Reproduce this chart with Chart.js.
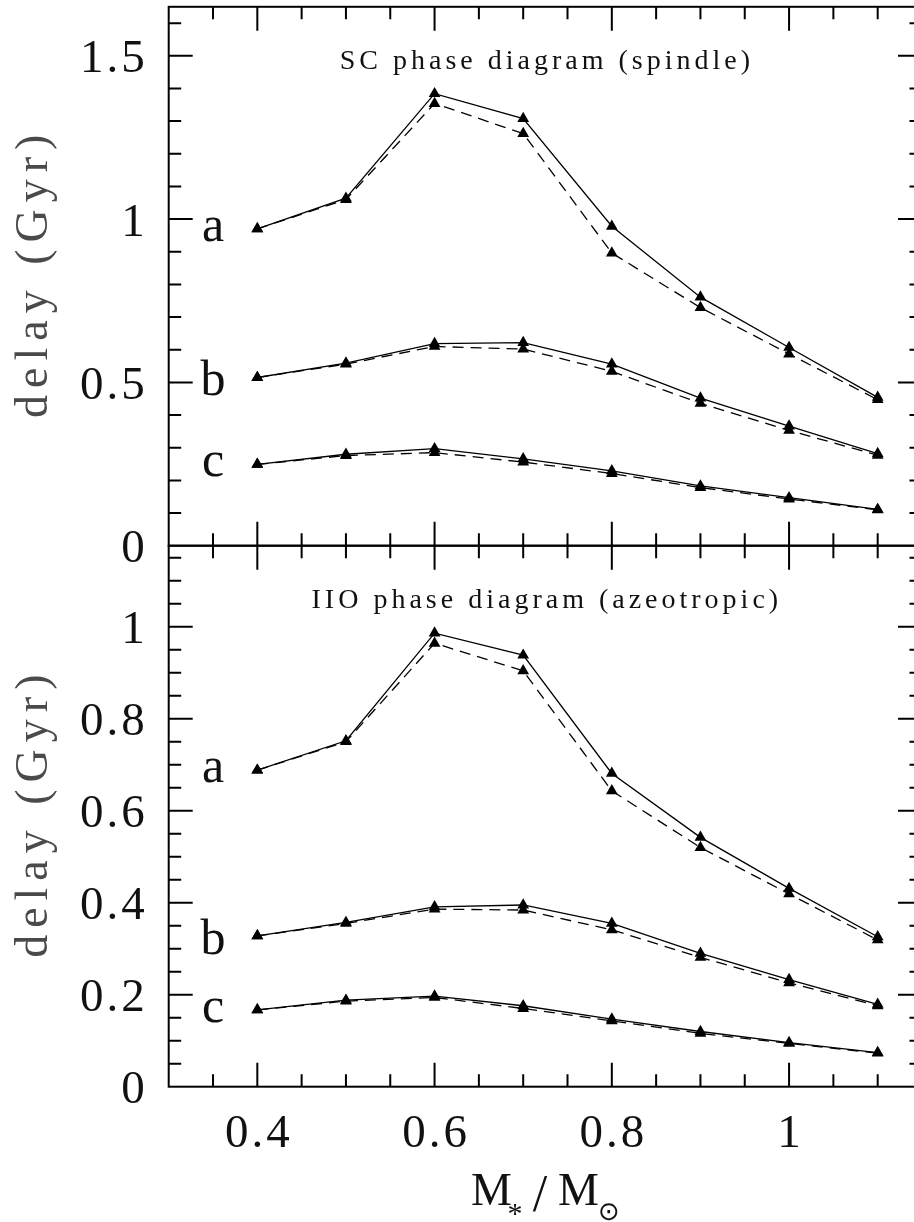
<!DOCTYPE html>
<html>
<head>
<meta charset="utf-8">
<script src="https://cdn.jsdelivr.net/npm/chart.js@4/dist/chart.umd.min.js"></script>
<style>
    html, body { margin: 0; padding: 0; background: #fff; overflow: hidden; }
    #wrap { position: relative; width: 914px; height: 1222px; overflow: hidden; }
    canvas { position: absolute; left: 0; top: 0; }
</style>
</head>
<body>
<div id="wrap">
    <canvas id="sc" width="930" height="1222"></canvas>
    <canvas id="iio" width="930" height="1222"></canvas>
</div>
<script>
const masses = [0.4, 0.5, 0.6, 0.7, 0.8, 0.9, 1.0, 1.1]

// SC phase diagram (spindle): solid and dashed runs for curves a, b, c
const scSolidA = [0.970, 1.064, 1.384, 1.308, 0.978, 0.761, 0.607, 0.454]
const scDashA = [0.970, 1.060, 1.354, 1.262, 0.896, 0.729, 0.587, 0.447]
const scSolidB = [0.515, 0.559, 0.619, 0.622, 0.556, 0.452, 0.366, 0.282]
const scDashB = [0.515, 0.556, 0.610, 0.602, 0.534, 0.436, 0.353, 0.277]
const scSolidC = [0.249, 0.280, 0.297, 0.266, 0.229, 0.183, 0.147, 0.111]
const scDashC = [0.249, 0.276, 0.285, 0.256, 0.221, 0.178, 0.143, 0.110]

// IIO phase diagram (azeotropic)
const iioSolidA = [0.688, 0.752, 0.986, 0.938, 0.681, 0.542, 0.431, 0.326]
const iioDashA = [0.688, 0.750, 0.964, 0.904, 0.643, 0.520, 0.419, 0.319]
const iioSolidB = [0.328, 0.357, 0.391, 0.395, 0.355, 0.290, 0.233, 0.179]
const iioDashB = [0.328, 0.355, 0.386, 0.384, 0.341, 0.281, 0.226, 0.176]
const iioSolidC = [0.167, 0.188, 0.197, 0.176, 0.147, 0.120, 0.096, 0.074]
const iioDashC = [0.167, 0.186, 0.194, 0.170, 0.143, 0.116, 0.094, 0.073]

const xTickLabels = ['0.4', '0.6', '0.8', '1']
const scTickLabels = ['0', '0.5', '1', '1.5']
const iioTickLabels = ['0', '0.2', '0.4', '0.6', '0.8', '1']
const curveLetters = ['a', 'b', 'c']

const serif = '"Liberation Serif", "Times New Roman", serif'

function spacedText(ctx, text, x, y, font, spacing, align, color) {
    ctx.save()
    ctx.font = font
    ctx.letterSpacing = '0px'
    const w = ctx.measureText(text).width + spacing * (text.length - 1)
    let left = x
    if (align === 'center') left = x - w / 2
    if (align === 'right') left = x - w
    ctx.letterSpacing = spacing + 'px'
    ctx.fillStyle = color || '#111'
    ctx.textAlign = 'left'
    ctx.textBaseline = 'alphabetic'
    ctx.fillText(text, left, y)
    ctx.restore()
}

const framePlugin = {
    id: 'frame',
    afterDraw(chart, args, opts) {
        const { ctx, chartArea: { left, right, top, bottom } } = chart
        const xs = chart.scales.x
        const ys = chart.scales.y

        ctx.save()
        ctx.strokeStyle = '#000'
        ctx.lineWidth = 2
        ctx.strokeRect(left, top, right - left, bottom - top)

        // inward ticks on all four sides
        ctx.beginPath()
        for (let k = 7; k <= 23; k++) {
            const px = xs.getPixelForValue(k * 0.05)
            const len = k % 4 === 0 ? 24 : 12.5
            ctx.moveTo(px, bottom)
            ctx.lineTo(px, bottom - len)
            ctx.moveTo(px, top)
            ctx.lineTo(px, top + len)
        }
        const steps = Math.floor(ys.max / opts.minorStep + 1e-6)
        for (let k = 1; k <= steps; k++) {
            const py = ys.getPixelForValue(k * opts.minorStep)
            const len = k % opts.majorEvery === 0 ? 24 : 12.5
            ctx.moveTo(left, py)
            ctx.lineTo(left + len, py)
            ctx.moveTo(right, py)
            ctx.lineTo(right - len, py)
        }
        ctx.stroke()
        ctx.restore()

        const tickFont = `47px ${serif}`
        opts.yLabels.forEach(label => {
            spacedText(ctx, label, left - 24, ys.getPixelForValue(Number(label)) + 16.5, tickFont, 3, 'right')
        })

        if (opts.xLabels) {
            xTickLabels.forEach(label => {
                spacedText(ctx, label, xs.getPixelForValue(Number(label)), bottom + 60, tickFont, 3, 'center')
            })
            // M_*/M_sun
            const base = bottom + 118.5
            spacedText(ctx, 'M', 471, base, `46px ${serif}`, 0, 'left')
            spacedText(ctx, '*', 515, base + 18, `30px ${serif}`, 0, 'center')
            spacedText(ctx, '/', 540, base + 6, `52px ${serif}`, 0, 'center')
            spacedText(ctx, 'M', 558, base, `46px ${serif}`, 0, 'left')
            spacedText(ctx, '⊙', 609, base + 15, `26px "DejaVu Sans", sans-serif`, 0, 'center')
        }

        ctx.save()
        ctx.translate(47, (top + bottom) / 2)
        ctx.rotate(-Math.PI / 2)
        spacedText(ctx, 'delay (Gyr)', 0, 0, `46px ${serif}`, 7, 'center', '#4a4a4a')
        ctx.restore()

        spacedText(ctx, opts.title, (left + right) / 2 - 0.5, top + 62.5, `28px ${serif}`, 4, 'center')

        curveLetters.forEach((letter, i) => {
            const first = chart.data.datasets[i * 2].data[0].y
            const py = ys.getPixelForValue(first) + opts.letterDy[i]
            spacedText(ctx, letter, xs.getPixelForValue(0.35), py, `50px ${serif}`, 0, 'center')
        })
    }
}

function curve(values, dash) {
    return {
        data: masses.map((m, i) => ({ x: m, y: values[i] })),
        borderColor: '#000',
        borderWidth: 1.3,
        borderDash: dash,
        tension: 0,
        fill: false,
        pointStyle: 'triangle',
        pointRadius: 6.8,
        pointBackgroundColor: '#000',
        pointBorderColor: '#000',
        pointBorderWidth: 0
    }
}

function curveSets(solids, dashes) {
    const sets = []
    solids.forEach((solid, i) => {
        sets.push(curve(solid, []))
        sets.push(curve(dashes[i], [11, 7]))
    })
    return sets
}

function panelChart(canvasId, datasets, yMax, padTop, padBottom, frame) {
    return new Chart(document.getElementById(canvasId), {
        type: 'line',
        data: { datasets },
        options: {
            responsive: false,
            animation: false,
            events: [],
            layout: { padding: { left: 168.7, right: 8, top: padTop, bottom: padBottom } },
            scales: {
                x: { type: 'linear', min: 0.3, max: 1.15, display: false },
                y: { type: 'linear', min: 0, max: yMax, display: false }
            },
            plugins: { legend: { display: false }, tooltip: { enabled: false }, frame }
        },
        plugins: [framePlugin]
    })
}

panelChart('sc',
    curveSets([scSolidA, scSolidB, scSolidC], [scDashA, scDashB, scDashC]),
    1.65, 4.5, 676.3,
    {
        title: 'SC phase diagram (spindle)',
        yLabels: scTickLabels,
        minorStep: 0.1,
        majorEvery: 5,
        xLabels: false,
        letterDy: [12, 18, 12]
    })

panelChart('iio',
    curveSets([iioSolidA, iioSolidB, iioSolidC], [iioDashA, iioDashB, iioDashC]),
    1.176, 545.7, 135.3,
    {
        title: 'IIO phase diagram (azeotropic)',
        yLabels: iioTickLabels,
        minorStep: 0.05,
        majorEvery: 4,
        xLabels: true,
        letterDy: [12, 18, 12]
    })
</script>
</body>
</html>
